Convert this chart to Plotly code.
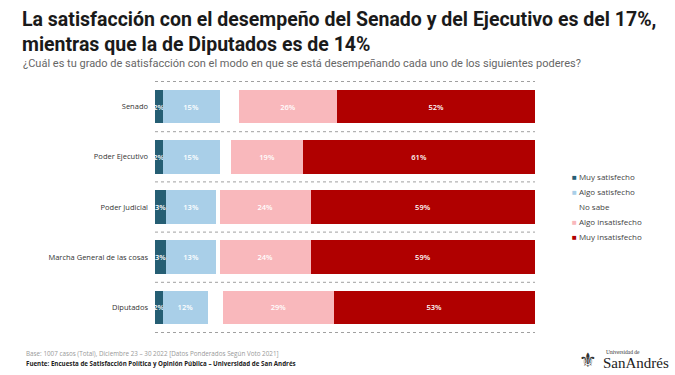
import plotly.graph_objects as go

categories = ["Senado", "Poder Ejecutivo", "Poder Judicial", "Marcha General de las cosas", "Diputados"]
series_names = ["Muy satisfecho", "Algo satisfecho", "No sabe", "Algo insatisfecho", "Muy insatisfecho"]
muy_satisfecho = [2, 2, 3, 3, 2]
algo_satisfecho = [15, 15, 13, 13, 12]
no_sabe = [5, 3, 1, 1, 4]
algo_insatisfecho = [26, 19, 24, 24, 29]
muy_insatisfecho = [52, 61, 59, 59, 53]
series_values = [muy_satisfecho, algo_satisfecho, no_sabe, algo_insatisfecho, muy_insatisfecho]
colors = ["#255E73", "#A9CFE8", "#FFFFFF", "#F9B8BC", "#B00000"]
show_label = [True, True, False, True, True]

L, R, T, B = 155, 140, 81, 42
PW, PH = 675 - L - R, 375 - T - B


def px(x):
    return (x - L) / PW


def py(y):
    return 1 - (y - T) / PH


fig = go.Figure()
for name, vals, col, lab in zip(series_names, series_values, colors, show_label):
    fig.add_trace(go.Bar(
        y=categories, x=vals, name=name, orientation="h",
        marker=dict(color=col, line=dict(width=0)),
        text=[f"{v}%" for v in vals] if lab else None,
        textposition="inside" if lab else "none",
        insidetextanchor="middle",
        textangle=0,
        textfont=dict(color="white", size=7.5, family="Open Sans", weight=600),
        showlegend=False,
        hoverinfo="skip",
    ))

fig.update_layout(
    width=675, height=375,
    barmode="stack", bargap=0.33,
    margin=dict(l=L, r=R, t=T, b=B),
    plot_bgcolor="white", paper_bgcolor="white",
    uniformtext=dict(minsize=7.5, mode="show"),
    xaxis=dict(range=[0, 100], visible=False, fixedrange=True),
    yaxis=dict(autorange="reversed", showgrid=False, zeroline=False, showline=False,
               ticks="", ticklabelstandoff=6, fixedrange=True,
               tickfont=dict(size=7.5, color="#333333", family="Open Sans")),
    font=dict(family="Open Sans"),
)

# dotted separators between rows
for i in range(len(categories) + 1):
    fig.add_shape(type="line", xref="paper", yref="y", x0=0, x1=1, y0=i - 0.5, y1=i - 0.5,
                  line=dict(color="#a0a0a0", width=1, dash="dot"), layer="below")

# Title & subtitle
fig.add_annotation(xref="paper", yref="paper", x=px(20), y=py(6), xanchor="left", yanchor="top",
                   align="left", showarrow=False,
                   text="<b>La satisfacción con el desempeño del Senado y del Ejecutivo es del 17%,<br>mientras que la de Diputados es de 14%</b>",
                   font=dict(size=19.5, color="#1a1a1a", family="Roboto"))
fig.add_annotation(xref="paper", yref="paper", x=px(21), y=py(55), xanchor="left", yanchor="top",
                   align="left", showarrow=False,
                   text="¿Cuál es tu grado de satisfacción con el modo en que se está desempeñando cada uno de los siguientes poderes?",
                   font=dict(size=11, color="#666666", family="Roboto"))

# Legend (manual)
for k, (name, col) in enumerate(zip(series_names, colors)):
    ypix = 176 + 15 * k
    marker = f"<span style='color:{col}'>■</span> "
    fig.add_annotation(xref="paper", yref="paper", x=px(570), y=py(ypix),
                       xanchor="left", yanchor="middle", showarrow=False,
                       text=marker + f"<span style='color:#444'>{name}</span>",
                       font=dict(size=8, family="Open Sans"))

# Footer
fig.add_annotation(xref="paper", yref="paper", x=px(24), y=py(353), xanchor="left", yanchor="middle",
                   showarrow=False,
                   text="Base: 1007 casos (Total), Diciembre 23 – 30 2022 [Datos Ponderados Según Voto 2021]",
                   font=dict(size=6.3, color="#999999", family="Open Sans"))
fig.add_annotation(xref="paper", yref="paper", x=px(24), y=py(363), xanchor="left", yanchor="middle",
                   showarrow=False,
                   text="<b>Fuente: Encuesta de Satisfacción Política y Opinión Pública – Universidad de San Andrés</b>",
                   font=dict(size=6.2, color="#222222", family="Open Sans"))

# Logo
fig.add_annotation(xref="paper", yref="paper", x=px(588), y=py(360), xanchor="center", yanchor="middle",
                   showarrow=False, text="⚜", font=dict(size=20, color="#333333", family="DejaVu Sans"))
fig.add_annotation(xref="paper", yref="paper", x=px(604), y=py(352), xanchor="left", yanchor="middle",
                   showarrow=False, text="Universidad de", font=dict(size=5.5, color="#333333", family="Liberation Serif"))
fig.add_annotation(xref="paper", yref="paper", x=px(601), y=py(363), xanchor="left", yanchor="middle",
                   showarrow=False, text="SanAndrés", font=dict(size=15, color="#222222", family="Liberation Serif"))

fig.write_html("out.html", config={"displayModeBar": False},
               post_script="document.body.style.margin='0';document.body.style.padding='0';")
